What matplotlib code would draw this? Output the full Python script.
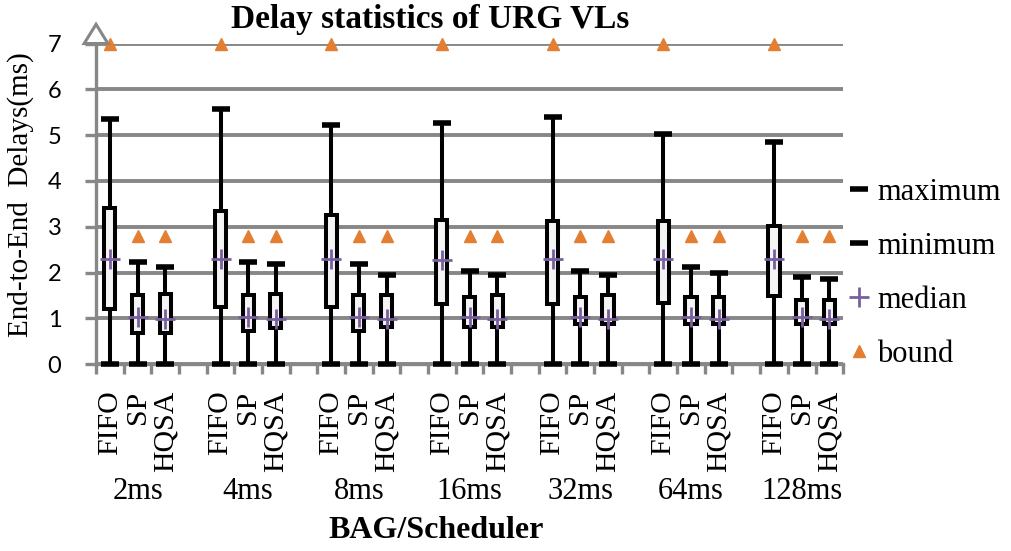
import numpy as np
import matplotlib
matplotlib.use('Agg')
import matplotlib.pyplot as plt
from matplotlib.patches import Polygon
import matplotlib.transforms as mtransforms

bags = ['2ms', '4ms', '8ms', '16ms', '32ms', '64ms', '128ms']
schedulers = ['FIFO', 'SP', 'HQSA']

# per (bag, scheduler), in bag order then FIFO/SP/HQSA
maximum = [5.36, 2.23, 2.12,  5.56, 2.23, 2.19,  5.23, 2.18, 1.94,
           5.26, 2.03, 1.94,  5.40, 2.03, 1.94,  5.03, 2.12, 1.99,
           4.84, 1.90, 1.85]
q3 = [3.40, 1.50, 1.54,  3.35, 1.50, 1.54,  3.25, 1.50, 1.50,
      3.15, 1.46, 1.50,  3.12, 1.46, 1.50,  3.12, 1.46, 1.46,
      3.01, 1.41, 1.41]
q1 = [1.21, 0.69, 0.69,  1.25, 0.73, 0.78,  1.24, 0.73, 0.82,
      1.31, 0.82, 0.82,  1.31, 0.87, 0.87,  1.33, 0.87, 0.87,
      1.49, 0.87, 0.87]
median = [2.30, 1.02, 0.98,  2.30, 1.03, 0.98,  2.30, 1.03, 0.98,
          2.27, 1.03, 0.98,  2.30, 1.03, 0.98,  2.30, 1.03, 0.98,
          2.30, 1.03, 0.98]
minimum = [0, 0, 0,  0, 0, 0,  0, 0, 0,  0, 0, 0,  0, 0, 0,
           0, 0, 0,  0, 0, 0]
bound = [7, 2.8, 2.8,  7, 2.8, 2.8,  7, 2.8, 2.8,  7, 2.8, 2.8,
         7, 2.8, 2.8,  7, 2.8, 2.8,  7, 2.8, 2.8]

serif = 'Liberation Serif'
grey = '#878787'
orange = '#e47e32'
purple = '#7a5fa0'

# category slots: 3 schedulers + 1 empty slot between bags
nb, ns = len(bags), len(schedulers)
x = np.array([b * (ns + 1) + s for b in range(nb) for s in range(ns)])
nslots = nb * (ns + 1) - 1

fig = plt.figure(figsize=(10.11, 5.51), dpi=100)
ax = fig.add_axes([0.095, 0.339, 0.739, 0.582])

lo = np.array(q1)
hi = np.array(q3)

ax.vlines(x, minimum, maximum, color='black', lw=2.9, zorder=2)
ax.bar(x, hi - lo, bottom=lo, width=0.40, color='#f4f4f4',
       edgecolor='black', lw=2.9, zorder=3)
h_max, = ax.plot(x, maximum, ls='none', marker='_', ms=13, mew=4,
                 color='black', zorder=4, label='maximum')
h_min, = ax.plot(x, minimum, ls='none', marker='_', ms=13, mew=4,
                 color='black', zorder=4, label='minimum', clip_on=False)
h_med, = ax.plot(x, median, ls='none', marker='+', ms=15, mew=2.0,
                 color=purple, zorder=5, label='median')
h_bnd, = ax.plot(x, bound, ls='none', marker='^', ms=8.5,
                 color=orange, zorder=5, label='bound', clip_on=False)

ax.set_xlim(-0.5, nslots - 0.5)
ax.set_ylim(0, 7)

# grid
ax.set_yticks(range(0, 8))
ax.yaxis.grid(True, color=grey, lw=2.8)
ax.set_axisbelow(True)
for side in ['top', 'right']:
    ax.spines[side].set_visible(False)
for side in ['left', 'bottom']:
    ax.spines[side].set_color(grey)
    ax.spines[side].set_linewidth(2.4)

ax.tick_params(axis='y', length=8, width=2.4, color=grey, pad=17,
               labelsize=17)
for t in ax.get_yticklabels():
    t.set_fontfamily('Lato')

# x ticks: labels at slots, tick marks at boundaries
ax.set_xticks(x)
ax.set_xticklabels([schedulers[s] for b in range(nb) for s in range(ns)],
                   rotation=90, fontsize=21.5, fontfamily=serif)
ax.tick_params(axis='x', which='major', length=0, pad=19)
ax.set_xticks(np.arange(-0.5, nslots, 1.0), minor=True)
ax.tick_params(axis='x', which='minor', length=7, width=2.4, color=grey)

# bag labels under each group
trans = mtransforms.blended_transform_factory(ax.transData, ax.transAxes)
for b, name in enumerate(bags):
    ax.text(b * (ns + 1) + 1, -0.398, name, transform=trans, ha='center',
            va='center', fontsize=22, fontfamily=serif)

# open arrow head at top of y axis
tri = Polygon([[-0.93, 7.0], [-0.07, 7.0], [-0.5, 7.42]], closed=True,
              facecolor='white', edgecolor=grey, lw=2.2, clip_on=False,
              zorder=6)
ax.add_patch(tri)

ax.set_ylabel('End-to-End  Delays(ms)', fontsize=21, fontfamily=serif)
ax.yaxis.set_label_coords(-0.083, 0.53)
fig.text(0.426, 0.965, 'Delay statistics of URG VLs', ha='center',
         va='center', fontsize=24, fontweight='bold', fontfamily=serif)
fig.text(0.431, 0.038, 'BAG/Scheduler', ha='center', va='center',
         fontsize=23, fontweight='bold', fontfamily=serif)

leg = ax.legend(handles=[h_max, h_min, h_med, h_bnd], loc='center left',
                bbox_to_anchor=(0.992, 0.283), frameon=False,
                prop={'family': serif, 'size': 22}, handlelength=0.6,
                handletextpad=0.3, labelspacing=0.82, borderaxespad=0)

fig.savefig('out.png', dpi=100)
